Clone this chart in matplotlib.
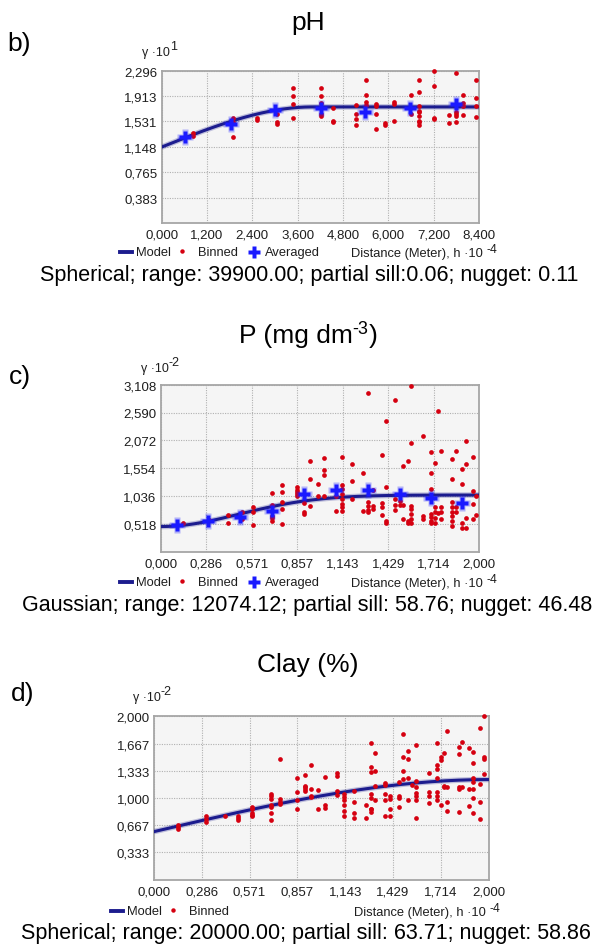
import numpy as np
import matplotlib
matplotlib.use('Agg')
import matplotlib.pyplot as plt
from matplotlib.lines import Line2D

plt.rcParams['font.family'] = ['Liberation Sans', 'DejaVu Sans']
plt.rcParams['mathtext.default'] = 'regular'

W, H = 599, 945

# ---------------- data ----------------
# pH (gamma * 10^1, lag * 10^-4 m)
ph_bin_lag = [0.82, 1.88, 2.52, 3.05, 3.47, 4.21, 4.53, 5.15, 5.41, 5.68, 5.92,
              6.15, 6.60, 6.81, 7.20, 7.60, 7.79, 7.97, 8.32]
ph_bin_gamma = [[1.35, 1.31], [1.58, 1.53, 1.29], [1.58, 1.56], [1.64, 1.53, 1.49],
                [2.04, 1.92, 1.80, 1.59], [2.04, 1.92, 1.81, 1.64, 1.62], [1.73, 1.54, 1.52],
                [1.78, 1.64, 1.57, 1.48], [2.15, 1.93, 1.82, 1.78], [1.79, 1.77, 1.64, 1.42],
                [1.51, 1.48], [1.82, 1.79, 1.54], [1.93, 1.64],
                [2.15, 1.98, 1.77, 1.69, 1.67, 1.62, 1.54, 1.52, 1.48],
                [2.29, 2.07, 1.59, 1.57], [1.63, 1.51], [2.26, 1.79, 1.68, 1.64, 1.61, 1.53],
                [1.93, 1.81, 1.77, 1.63], [2.15, 1.88, 1.77, 1.60]]
ph_avg_lag = [0.62, 1.83, 3.00, 4.21, 5.39, 6.58, 7.79]
ph_avg_gamma = [1.30, 1.49, 1.71, 1.73, 1.68, 1.74, 1.80]
ph_model = ('spherical', 1.145, 0.605, 3.99)   # nugget, partial sill, range
ph_xticks = ['0,000', '1,200', '2,400', '3,600', '4,800', '6,000', '7,200', '8,400']
ph_yticks = ['0,383', '0,765', '1,148', '1,531', '1,913', '2,296']

# P (gamma * 10^-2)
p_bin_lag = [0.142, 0.305, 0.424, 0.508, 0.58, 0.70, 0.76, 0.854, 0.90, 0.94, 0.985,
             1.025, 1.10, 1.138, 1.20, 1.27, 1.303, 1.33, 1.39, 1.414, 1.47, 1.50, 1.52,
             1.55, 1.573, 1.65, 1.70, 1.72, 1.743, 1.76, 1.83, 1.854, 1.895, 1.915, 1.96, 1.98]
p_bin_gamma = [[0.53], [0.59], [0.68, 0.54], [0.74, 0.61], [0.83, 0.73, 0.49],
               [1.09, 0.87, 0.67, 0.62, 0.57], [1.24, 1.11, 0.93, 0.80, 0.51],
               [1.20, 1.15, 1.11, 1.07, 1.04], [0.90, 0.74, 0.70], [1.69, 1.36, 0.85],
               [1.26, 1.04], [1.74, 1.52, 1.42, 1.04], [1.03, 0.76],
               [1.77, 1.24, 1.16, 1.07, 0.97, 0.89, 0.82, 0.76], [1.63, 1.32, 0.98],
               [1.46, 0.76], [2.95, 0.93, 0.85, 0.78, 0.73], [1.15, 0.84, 0.79],
               [1.79, 0.90, 0.82, 0.68], [2.43, 1.21, 0.57, 0.53], [2.82, 0.97, 0.87, 0.78],
               [0.95, 0.87], [1.59, 0.87, 0.61], [1.69, 0.57, 0.53],
               [3.09, 2.02, 0.85, 0.80, 0.70, 0.61, 0.53], [2.16, 0.67, 0.61],
               [1.86, 1.46, 1.16, 0.70, 0.64, 0.57, 0.54], [1.65, 0.82, 0.73, 0.62, 0.54],
               [2.62, 0.72], [1.88, 0.82, 0.73, 0.61],
               [1.72, 1.36, 0.93, 0.82, 0.74, 0.67, 0.57, 0.48], [1.88, 0.82, 0.74],
               [1.54, 1.26, 0.53, 0.43], [2.06, 1.63, 0.62, 0.43], [1.77, 1.13, 0.88, 0.61],
               [1.04, 0.68]]
p_avg_lag = [0.104, 0.30, 0.50, 0.70, 0.90, 1.10, 1.30, 1.50, 1.70, 1.895]
p_avg_gamma = [0.49, 0.57, 0.65, 0.76, 1.08, 1.15, 1.15, 1.08, 0.99, 0.90]
p_model = ('gaussian', 0.4648, 0.5876, 1.2074)
p_xticks = ['0,000', '0,286', '0,571', '0,857', '1,143', '1,429', '1,714', '2,000']
p_yticks = ['0,518', '1,036', '1,554', '2,072', '2,590', '3,108']

# Clay (gamma * 10^-2)
clay_bin_lag = [0.142, 0.31, 0.424, 0.504, 0.584, 0.70, 0.755, 0.853, 0.90, 0.94, 0.98,
                1.02, 1.096, 1.138, 1.195, 1.267, 1.295, 1.32, 1.383, 1.41, 1.466, 1.49,
                1.516, 1.54, 1.566, 1.644, 1.69, 1.714, 1.733, 1.753, 1.825, 1.843, 1.885,
                1.905, 1.95, 1.97]
clay_bin_gamma = [[0.67, 0.65, 0.62], [0.78, 0.74, 0.71], [0.78], [0.78, 0.75, 0.73],
                  [0.89, 0.86, 0.82, 0.79, 0.78], [1.05, 1.02, 0.99, 0.91, 0.89, 0.82, 0.73],
                  [1.48, 0.99, 0.95, 0.93], [1.25, 1.07, 0.98, 0.87],
                  [1.28, 1.15, 1.13, 1.11, 1.09], [1.40, 1.11, 1.03, 1.01], [1.10, 0.87],
                  [1.26, 0.91, 0.88], [1.31, 1.27, 1.08, 1.04],
                  [1.05, 1.01, 0.98, 0.91, 0.84, 0.78], [1.08, 0.95, 0.82, 0.75], [0.91, 0.76],
                  [1.67, 1.38, 1.32, 1.05, 1.00, 0.87, 0.86, 0.83], [1.55, 1.33, 1.15, 0.98],
                  [1.18, 1.16, 1.05, 0.98, 0.78], [1.03, 0.99, 0.87, 0.78],
                  [1.19, 1.03, 1.00, 0.89], [1.78, 1.50, 1.33, 1.23], [1.57, 1.48, 1.25, 0.98],
                  [1.16], [1.65, 1.21, 1.13, 1.06, 1.03, 0.97, 0.76], [1.31, 1.07, 1.03, 0.94],
                  [1.67, 1.40, 1.36, 1.24, 1.07, 1.03, 0.97], [1.50, 1.47, 0.91],
                  [1.55, 1.15, 1.13], [1.82, 1.13, 0.95, 0.84], [1.63, 1.54, 1.13, 1.11, 0.83],
                  [1.69, 1.13], [1.61, 1.11, 0.90], [1.56, 1.43, 1.25, 1.19, 1.11, 1.00, 0.82],
                  [1.86, 1.17, 0.95, 0.74], [2.00, 1.50, 1.48, 1.29]]
clay_model = ('spherical', 0.5886, 0.6371, 2.0)
clay_xticks = p_xticks
clay_yticks = ['0,333', '0,667', '1,000', '1,333', '1,667', '2,000']

NAVY = '#1c1c8e'
RED = '#d50010'
BLUE = '#1a1aff'
TXT = '#1e1e1e'


def px(x):
    return x / W


def py(y):
    return 1 - y / H


def model_curve(kind, c0, c, a, h):
    if kind == 'spherical':
        r = np.minimum(h / a, 1.0)
        return c0 + c * (1.5 * r - 0.5 * r ** 3)
    return c0 + c * (1 - np.exp(-3 * h ** 2 / a ** 2))


def num(s):
    return float(s.replace(',', '.'))


def text_width(fig, s, fs):
    t = fig.text(0, 0, s, fontsize=fs)
    w = t.get_window_extent(fig.canvas.get_renderer()).width
    t.remove()
    return w


def sup_text(fig, x, y, parts, fs, ha='left', color='black'):
    # parts: list of (string, fontsize scale, raise in px); y is the baseline
    widths = [text_width(fig, s, fs * k) for s, k, _ in parts]
    if ha == 'center':
        x = x - sum(widths) / 2
    for (s, k, up), w in zip(parts, widths):
        fig.text(px(x), py(y - up), s, fontsize=fs * k, va='baseline', color=color)
        x += w


def panel(fig, box, lags, gammas, model, xt, yt, avg=None):
    l, r, t, b = box
    ax = fig.add_axes([px(l), py(b), px(r - l), (b - t) / H])
    ax.set_facecolor('#f5f5f5')
    xv = [num(s) for s in xt]
    yv = [num(s) for s in yt]
    ax.set_xlim(0, xv[-1])
    ax.set_ylim(0, yv[-1])
    ax.set_xticks(xv)
    ax.set_xticklabels(xt)
    ax.set_yticks(yv)
    ax.set_yticklabels(yt)
    ax.tick_params(length=0, labelsize=9.5, colors=TXT, pad=3)
    ax.tick_params(axis='x', pad=4)
    ax.grid(True, color='#b0b0b0', lw=0.8, ls=(0, (1, 1.2)))
    ax.set_axisbelow(True)
    for s in ax.spines.values():
        s.set_color('#a6a6a6')
        s.set_linewidth(1.3)
    hx = []
    gy = []
    for h, gs in zip(lags, gammas):
        hx += [h] * len(gs)
        gy += gs
    hh = np.linspace(0, xv[-1], 300)
    mc = model_curve(*model, hh)
    ax.plot(hh, mc, color=NAVY, lw=4, alpha=0.25, solid_capstyle='butt', zorder=3)
    ax.plot(hh, mc, color=NAVY, lw=2.2, zorder=4)
    ax.plot(hx, gy, 'o', color=RED, ms=3.4, mec='none', zorder=5, clip_on=False)
    if avg is not None:
        ax.plot(avg[0], avg[1], 'P', color=BLUE, ms=11, mec='none', zorder=6, alpha=0.3)
        ax.plot(avg[0], avg[1], 'P', color=BLUE, ms=9, mec='none', zorder=7)
    return ax


def legend_row(fig, y, x0, averaged, dist_x):
    fs = 9.3
    fig.add_artist(Line2D([px(x0), px(x0 + 12)], [py(y), py(y)], color=NAVY, lw=2.8))
    fig.text(px(x0 + 16), py(y), 'Model', fontsize=fs, va='center', color=TXT)
    fig.add_artist(Line2D([px(x0 + 62)], [py(y - 1)], marker='o', color=RED, ms=3.2, mec='none'))
    fig.text(px(x0 + 78), py(y), 'Binned', fontsize=fs, va='center', color=TXT)
    if averaged:
        fig.add_artist(Line2D([px(x0 + 134)], [py(y)], marker='P', color=BLUE, ms=9, mec='none'))
        fig.text(px(x0 + 145), py(y), 'Averaged', fontsize=fs, va='center', color=TXT)
    sup_text(fig, dist_x, y + 4, [('Distance (Meter), h \u00b710 ', 1.0, 0), ('-4', 0.95, 4)],
             fs, color=TXT)


def gamma_label(fig, x, y, exp):
    sup_text(fig, x, y, [('\u03b3 \u00b710', 1.0, 0), (exp, 1.0, 6)], 9.0, color=TXT)


fig = plt.figure(figsize=(W / 100, H / 100), dpi=100)

# b) pH
sup_text(fig, 308, 30, [('pH', 1.0, 0)], 19, ha='center')
fig.text(px(7), py(44), 'b)', fontsize=19, ha='left', va='center')
gamma_label(fig, 142, 56, '1')
panel(fig, (161.7, 478.8, 71.7, 224), ph_bin_lag, ph_bin_gamma, ph_model,
      ph_xticks, ph_yticks, (ph_avg_lag, ph_avg_gamma))
legend_row(fig, 253, 120, True, 351)
fig.text(px(309), py(276), 'Spherical; range: 39900.00; partial sill:0.06; nugget: 0.11',
         fontsize=15.5, ha='center', va='center')

# c) P
sup_text(fig, 308, 343, [('P (mg dm', 1.0, 0), ('-3', 0.68, 9), (')', 1.0, 0)], 19,
         ha='center')
fig.text(px(9), py(377), 'c)', fontsize=19, ha='left', va='center')
gamma_label(fig, 141, 372, '-2')
panel(fig, (160.7, 479.2, 385.7, 552.5), p_bin_lag, p_bin_gamma, p_model,
      p_xticks, p_yticks, (p_avg_lag, p_avg_gamma))
legend_row(fig, 583, 120, True, 351)
fig.text(px(307), py(605), 'Gaussian; range: 12074.12; partial sill: 58.76; nugget: 46.48',
         fontsize=15.5, ha='center', va='center')

# d) Clay
sup_text(fig, 308, 672, [('Clay (%)', 1.0, 0)], 19, ha='center')
fig.text(px(11), py(694), 'd)', fontsize=19, ha='left', va='center')
gamma_label(fig, 133, 701, '-2')
panel(fig, (154, 488.6, 717.3, 880.7), clay_bin_lag, clay_bin_gamma, clay_model,
      clay_xticks, clay_yticks)
legend_row(fig, 912, 111, False, 354)
fig.text(px(306), py(934), 'Spherical; range: 20000.00; partial sill: 63.71; nugget: 58.86',
         fontsize=15.5, ha='center', va='center')

fig.savefig('out.png', dpi=100)
